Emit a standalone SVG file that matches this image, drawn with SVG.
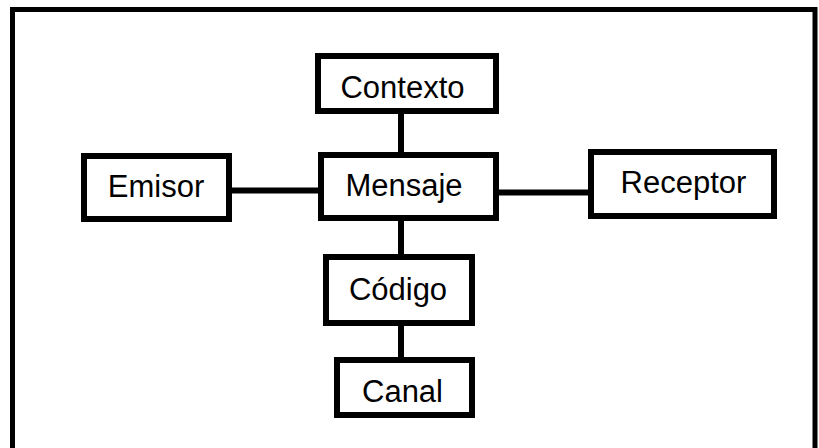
<svg xmlns="http://www.w3.org/2000/svg" width="819" height="448" viewBox="0 0 819 448">
<style>
.box{fill:#fff;stroke:#000;stroke-width:6}
.lbl{font-family:"Liberation Sans",Arial,sans-serif;font-size:31px;fill:#000;text-anchor:middle}
.con{stroke:#000;stroke-width:6;fill:none}
</style>
<rect width="819" height="448" fill="#fff"/>
<path d="M12.5,452 V9.5 H815 V452" fill="none" stroke="#000" stroke-width="5"/>
<g id="connectors">
<line class="con" x1="401" y1="114" x2="401" y2="152"/>
<line class="con" x1="401" y1="221" x2="401" y2="254"/>
<line class="con" x1="401" y1="326" x2="401" y2="357"/>
<line class="con" x1="232" y1="190.5" x2="318" y2="190.5"/>
<line class="con" x1="499" y1="192.5" x2="588" y2="192.5"/>
</g>
<g id="contexto"><rect class="box" x="318" y="56" width="178" height="55"/><text class="lbl" x="402.5" y="98">Contexto</text></g>
<g id="mensaje"><rect class="box" x="321" y="155" width="175" height="63"/><text class="lbl" x="404" y="196">Mensaje</text></g>
<g id="emisor"><rect class="box" x="84" y="156" width="145" height="63"/><text class="lbl" x="156" y="197">Emisor</text></g>
<g id="receptor"><rect class="box" x="591" y="152" width="183" height="64"/><text class="lbl" x="683.5" y="193">Receptor</text></g>
<g id="codigo"><rect class="box" x="326" y="257" width="146" height="66"/><text class="lbl" x="398" y="300">Código</text></g>
<g id="canal"><rect class="box" x="337" y="360" width="135" height="55"/><text class="lbl" x="402.5" y="402">Canal</text></g>
</svg>
